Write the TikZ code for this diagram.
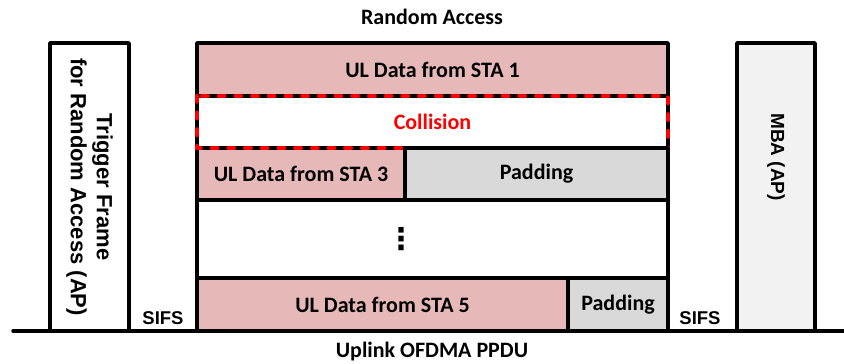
\documentclass[tikz,border=0pt]{standalone}
\usepackage{fontspec}
\newfontfamily\calfont{Carlito}
\newfontfamily\arifont{Liberation Sans}
\newfontfamily\dvfont{DejaVu Sans}
\definecolor{pinkfill}{HTML}{E6B9B8}
\definecolor{grayfill}{HTML}{D9D9D9}
\definecolor{mbafill}{HTML}{F2F2F2}
\definecolor{collred}{HTML}{FF0000}
\begin{document}
\begin{tikzpicture}[x=1pt,y=-1pt,
  frame/.style={draw=black, line width=3.5pt, line join=round, inner sep=0pt, outer sep=0pt, anchor=north west},
  caltext/.style={font=\calfont\bfseries\fontsize{22}{26}\selectfont},
  aritext/.style={font=\arifont\bfseries\fontsize{22}{26}\selectfont},
  mbatext/.style={font=\arifont\bfseries\fontsize{19}{22}\selectfont},
  sifstext/.style={font=\arifont\bfseries\fontsize{18.5}{22}\selectfont},
  titletext/.style={font=\calfont\bfseries\fontsize{22}{26}\selectfont},
  stabox/.style={frame, fill=pinkfill, caltext},
  padbox/.style={frame, fill=grayfill, caltext},
  reddash/.style={collred, line width=4.5pt, line cap=round, dash pattern=on 5.5pt off 11.2pt},
]
\useasboundingbox (0,0) rectangle (844,364);
% time axis
\coordinate (axisL) at (13,331);
\coordinate (axisR) at (846,331);
\draw[line width=3.5pt, line cap=round] (axisL) -- (axisR);
% trigger frame
\node[frame, fill=white, minimum width=79pt, minimum height=288pt] (trig) at (50,43) {};
\node[aritext, rotate=-90, align=center] (triglabel) at (trig.center) {Trigger Frame\\for Random Access (AP)};
% MBA
\node[frame, fill=mbafill, minimum width=78pt, minimum height=288pt] (mba) at (737,43) {};
\node[mbatext, rotate=-90] (mbalabel) at (776,157) {MBA (AP)};
% uplink block
\node[stabox, minimum width=471pt, minimum height=53pt] (sta1) at (197,43) {UL Data from STA 1};
\node[stabox, minimum width=208pt, minimum height=52pt] (sta3) at (197,148) {UL Data from STA 3};
\node[frame, fill=white, minimum width=471pt, minimum height=52pt, text=collred, caltext] (coll) at (197,96) {Collision};
\draw[reddash] (coll.north west) rectangle (coll.south east);
\node[padbox, minimum width=263pt, minimum height=52pt] (pad3) at (405,148) {Padding};
\node[frame, fill=white, minimum width=471pt, minimum height=78pt] (gap) at (197,200) {};
\node[inner sep=0pt, font=\dvfont\bfseries\fontsize{30}{30}\selectfont] (dots) at (401,239) {⋮};
\node[stabox, minimum width=371pt, minimum height=53pt] (sta5) at (197,278) {UL Data from STA 5};
\node[padbox, minimum width=100pt, minimum height=53pt] (pad5) at (568,278) {Padding};
% labels
\node[sifstext] (sifs1) at (163,318) {SIFS};
\node[sifstext] (sifs2) at (700,318) {SIFS};
\node[titletext] (title) at (432,17) {Random Access};
\node[titletext] (bottom) at (432,352) {Uplink OFDMA PPDU};
\end{tikzpicture}
\end{document}
